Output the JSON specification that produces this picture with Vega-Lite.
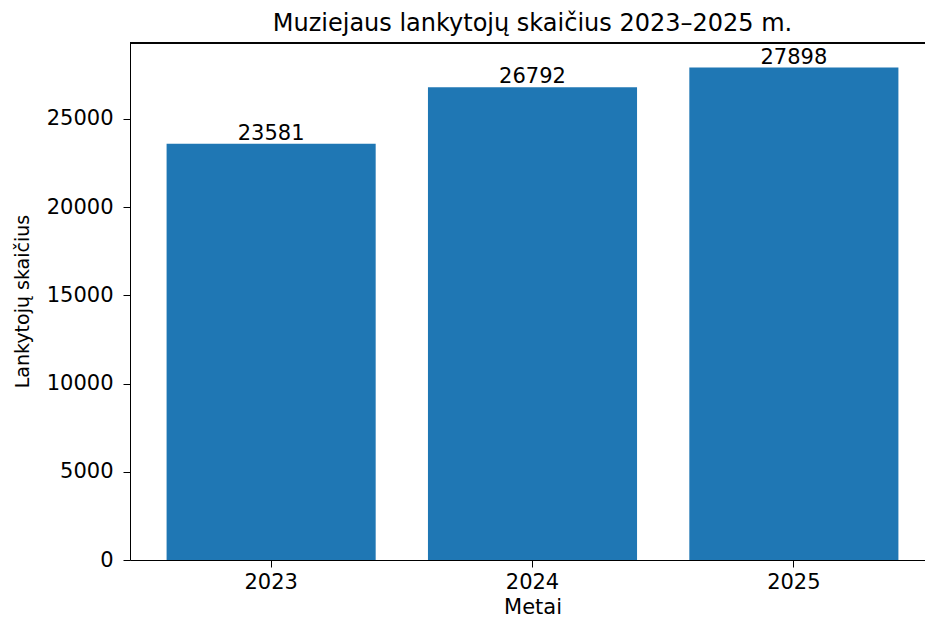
{
  "$schema": "https://vega.github.io/schema/vega-lite/v6.json",
  "autosize": "none",
  "width": 805,
  "height": 517,
  "padding": {"left": 130, "top": 43, "right": 0, "bottom": 57},
  "background": "white",
  "title": {
    "text": "Muziejaus lankytojų skaičius 2023–2025 m.",
    "font": "DejaVu Sans",
    "fontSize": 24,
    "fontWeight": "normal",
    "color": "black",
    "offset": 6,
    "anchor": "middle"
  },
  "data": {
    "values": [
      {"year": "2023", "visitors": 23581},
      {"year": "2024", "visitors": 26792},
      {"year": "2025", "visitors": 27898}
    ]
  },
  "layer": [
    {
      "mark": {"type": "bar", "color": "#1f77b4"},
      "encoding": {
        "x": {
          "field": "year",
          "type": "nominal",
          "sort": null,
          "scale": {"paddingInner": 0.2, "paddingOuter": 0.14},
          "axis": {
            "title": "Metai",
            "labelAngle": 0,
            "labelFont": "DejaVu Sans",
            "labelFontSize": 21,
            "labelColor": "black",
            "labelPadding": 4,
            "tickSize": 7,
            "tickColor": "black",
            "domainColor": "black",
            "titleFont": "DejaVu Sans",
            "titleFontSize": 21,
            "titleFontWeight": "normal",
            "titleColor": "black",
            "titlePadding": 4
          }
        },
        "y": {
          "field": "visitors",
          "type": "quantitative",
          "scale": {"domain": [0, 29293], "nice": false, "zero": true},
          "axis": {
            "title": "Lankytojų skaičius",
            "values": [0, 5000, 10000, 15000, 20000, 25000],
            "grid": false,
            "format": "d",
            "labelFont": "DejaVu Sans",
            "labelFontSize": 21,
            "labelColor": "black",
            "labelPadding": 10,
            "tickSize": 7,
            "tickColor": "black",
            "domainColor": "black",
            "titleFont": "DejaVu Sans",
            "titleFontSize": 19,
            "titleFontWeight": "normal",
            "titleColor": "black",
            "titleBaseline": "middle",
            "titleX": -108,
            "titleY": 258,
            "titleAngle": -90,
            "titleAlign": "center"
          }
        }
      }
    },
    {
      "mark": {
        "type": "text",
        "baseline": "alphabetic",
        "dy": -4,
        "font": "DejaVu Sans",
        "fontSize": 21,
        "color": "black"
      },
      "encoding": {
        "x": {"field": "year", "type": "nominal", "sort": null},
        "y": {"field": "visitors", "type": "quantitative"},
        "text": {"field": "visitors", "type": "quantitative", "format": "d"}
      }
    },
    {
      "mark": {"type": "rule", "color": "black", "strokeWidth": 1.5},
      "encoding": {"y": {"datum": 29293}}
    }
  ],
  "config": {
    "view": {"stroke": null}
  }
}
